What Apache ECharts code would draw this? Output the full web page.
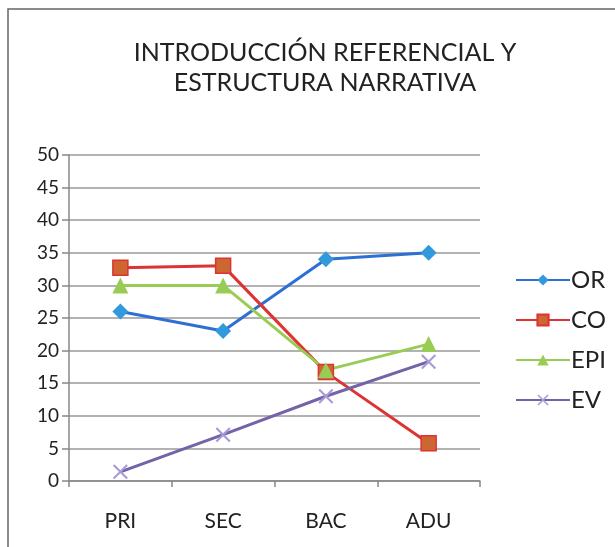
<!DOCTYPE html>
<html>
<head>
<meta charset="utf-8">
<script src="https://cdn.jsdelivr.net/npm/echarts@6/dist/echarts.min.js"></script>
<style>
  html, body { margin: 0; padding: 0; background: #fff; }
  #main { width: 615px; height: 547px; }
</style>
</head>
<body>
<div id="main"></div>
<script>
// categorias y series
const categories = ['PRI', 'SEC', 'BAC', 'ADU'];
const orData = [26, 23, 34, 35];
const coData = [32.7, 33, 16.7, 5.8];
const epiData = [30, 30, 17, 21];
const evData = [1.4, 7.1, 13, 18.3];

const FONT = 'Lato';
// simbolo en forma de aspa para EV
const crossPath = 'path://M0,1L1,0L10,9L9,10Z M9,0L10,1L1,10L0,9Z';

const chart = echarts.init(document.getElementById('main'));

const mkSeries = (name, data, lineColor, symbol, size, markerColor, borderColor) => ({
  name: name,
  type: 'line',
  data: data,
  symbol: symbol,
  symbolSize: size,
  lineStyle: { color: lineColor, width: 3 },
  itemStyle: { color: markerColor, borderColor: borderColor, borderWidth: borderColor ? 1.5 : 0 },
  emphasis: { disabled: true }
});

chart.setOption({
  animation: false,
  textStyle: { fontFamily: FONT },
  title: {
    text: 'INTRODUCCIÓN REFERENCIAL Y\nESTRUCTURA NARRATIVA',
    left: 325,
    top: 38,
    padding: 0,
    textAlign: 'center',
    textStyle: { fontFamily: FONT, fontSize: 25, fontWeight: 'normal', color: '#222', lineHeight: 30 }
  },
  graphic: [{
    type: 'rect',
    shape: { x: 8, y: 9, width: 700, height: 700 },
    style: { fill: 'none', stroke: '#666', lineWidth: 1.5 },
    silent: true
  }],
  legend: {
    orient: 'vertical',
    left: 510,
    top: 263,
    itemWidth: 54,
    itemHeight: 14,
    itemGap: 16,
    lineStyle: { width: 2 },
    textStyle: { fontFamily: FONT, fontSize: 24, color: '#222', padding: [0, 0, 0, -4] },
    data: ['OR', 'CO', 'EPI', 'EV']
  },
  grid: { left: 69, right: 135, top: 155, bottom: 66 },
  xAxis: {
    type: 'category',
    data: categories,
    boundaryGap: true,
    axisLine: { lineStyle: { color: '#888', width: 1.5 } },
    axisTick: { show: true, length: 6, lineStyle: { color: '#888', width: 1.5 } },
    axisLabel: { fontFamily: FONT, fontSize: 21, color: '#222', margin: 30 }
  },
  yAxis: {
    type: 'value',
    min: 0,
    max: 50,
    interval: 5,
    axisLine: { show: true, lineStyle: { color: '#888', width: 1.5 } },
    axisTick: { show: true, length: 7, lineStyle: { color: '#888', width: 1.5 } },
    axisLabel: { fontFamily: FONT, fontSize: 19, color: '#222', margin: 10 },
    splitLine: { lineStyle: { color: '#999', width: 1.5 } }
  },
  series: [
    mkSeries('OR', orData, '#2e6fd6', 'diamond', 16, '#3399dd'),
    mkSeries('CO', coData, '#dd3333', 'rect', 15, '#cc6633', '#dd3333'),
    mkSeries('EPI', epiData, '#99cc55', 'triangle', 16, '#99cc55'),
    mkSeries('EV', evData, '#7463a8', crossPath, 15, '#a99ad8')
  ]
});
</script>
</body>
</html>
